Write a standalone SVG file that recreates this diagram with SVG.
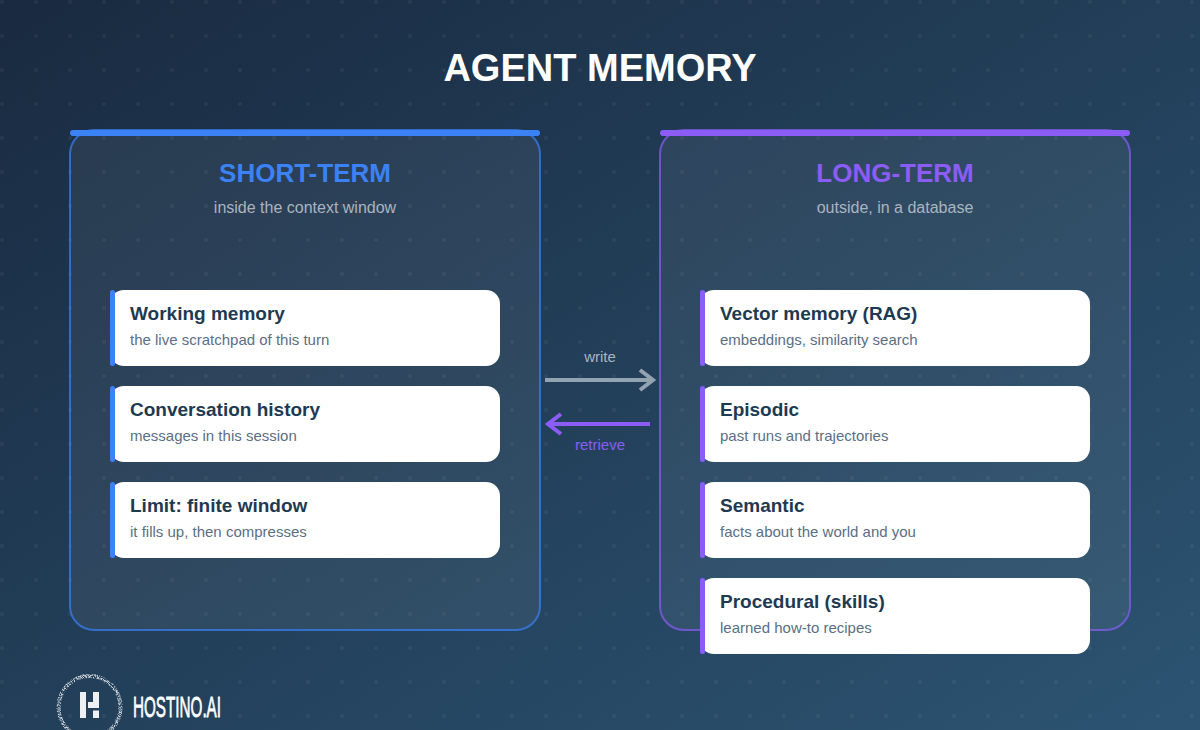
<svg xmlns="http://www.w3.org/2000/svg" width="1200" height="730" viewBox="0 0 1200 730">
<style>
text{font-family:"Liberation Sans",Arial,sans-serif}
.t{font-size:19px;font-weight:700;fill:#1e3a52}
.s{font-size:15px;fill:#5a6f85}
.card{fill:#fff}
.panel{fill:#fff;fill-opacity:.06;stroke-width:2}
.ph{font-size:26px;font-weight:700;text-anchor:middle}
.ps{font-size:16px;fill:#aab4c0;text-anchor:middle}
.lbl{font-size:15px;text-anchor:middle}
.blue{fill:#3b82f6}
.purple{fill:#8b5cf6}
.arrow{fill:none;stroke-width:4}
</style>
<defs>
<linearGradient id="bg" x1="0" y1="0" x2="1" y2="1">
<stop offset="0" stop-color="#192a40"/><stop offset="1" stop-color="#2c5472"/>
</linearGradient>
<pattern id="dots" x="0" y="0" width="34" height="34" patternUnits="userSpaceOnUse">
<circle cx="2" cy="2" r="2" fill="#fff" fill-opacity=".05"/>
</pattern>
<filter id="grain" x="-10%" y="-10%" width="120%" height="120%">
<feTurbulence type="fractalNoise" baseFrequency="1.1" numOctaves="2" seed="4" result="n"/>
<feColorMatrix in="n" type="matrix" values="0 0 0 0 0 0 0 0 0 0 0 0 0 0 0 4 0 0 0 -1.500" result="m"/>
<feComposite in="SourceGraphic" in2="m" operator="in"/>
<feGaussianBlur stdDeviation=".4"/>
</filter>
</defs>
<rect width="1200" height="730" fill="url(#bg)"/>
<rect width="1200" height="730" fill="url(#dots)"/>
<text x="600" y="81" font-size="38" font-weight="700" fill="#fff" text-anchor="middle">AGENT MEMORY</text>

<g id="panel-short">
<rect class="panel" x="70" y="130" width="470" height="500" rx="24" stroke="#3b82f6" stroke-opacity=".7"/>
<rect class="blue" x="70" y="130" width="470" height="6" rx="3"/>
<text class="ph blue" x="305" y="182">SHORT-TERM</text>
<text class="ps" x="305" y="213">inside the context window</text>
</g>
<g id="panel-long">
<rect class="panel" x="660" y="130" width="470" height="500" rx="24" stroke="#8b5cf6" stroke-opacity=".7"/>
<rect class="purple" x="660" y="130" width="470" height="6" rx="3"/>
<text class="ph purple" x="895" y="182">LONG-TERM</text>
<text class="ps" x="895" y="213">outside, in a database</text>
</g>

<g id="card-working"><rect class="card" x="110" y="290" width="390" height="76" rx="14"/><rect class="blue" x="110" y="290" width="5" height="76" rx="2.500"/><text class="t" x="130" y="320">Working memory</text><text class="s" x="130" y="345">the live scratchpad of this turn</text></g>
<g id="card-conversation"><rect class="card" x="110" y="386" width="390" height="76" rx="14"/><rect class="blue" x="110" y="386" width="5" height="76" rx="2.500"/><text class="t" x="130" y="416">Conversation history</text><text class="s" x="130" y="441">messages in this session</text></g>
<g id="card-limit"><rect class="card" x="110" y="482" width="390" height="76" rx="14"/><rect class="blue" x="110" y="482" width="5" height="76" rx="2.500"/><text class="t" x="130" y="512">Limit: finite window</text><text class="s" x="130" y="537">it fills up, then compresses</text></g>

<g id="card-vector"><rect class="card" x="700" y="290" width="390" height="76" rx="14"/><rect class="purple" x="700" y="290" width="5" height="76" rx="2.500"/><text class="t" x="720" y="320">Vector memory (RAG)</text><text class="s" x="720" y="345">embeddings, similarity search</text></g>
<g id="card-episodic"><rect class="card" x="700" y="386" width="390" height="76" rx="14"/><rect class="purple" x="700" y="386" width="5" height="76" rx="2.500"/><text class="t" x="720" y="416">Episodic</text><text class="s" x="720" y="441">past runs and trajectories</text></g>
<g id="card-semantic"><rect class="card" x="700" y="482" width="390" height="76" rx="14"/><rect class="purple" x="700" y="482" width="5" height="76" rx="2.500"/><text class="t" x="720" y="512">Semantic</text><text class="s" x="720" y="537">facts about the world and you</text></g>
<g id="card-procedural"><rect class="card" x="700" y="578" width="390" height="76" rx="14"/><rect class="purple" x="700" y="578" width="5" height="76" rx="2.500"/><text class="t" x="720" y="608">Procedural (skills)</text><text class="s" x="720" y="633">learned how-to recipes</text></g>

<g id="connectors">
<path class="arrow" stroke="#94a3b0" d="M545 380H653M640 370l13 10l-13 10"/>
<path class="arrow" stroke="#8b5cf6" d="M650 424H548M561 414l-13 10l13 10"/>
</g>
<text class="lbl" x="600" y="362" fill="#aab4c0">write</text>
<text class="lbl" x="600" y="450" fill="#8b5cf6">retrieve</text>

<g id="logo">
<circle cx="89.500" cy="707" r="31" fill="none" stroke="#fff" stroke-opacity=".75" stroke-width="4" filter="url(#grain)"/>
<path fill="#eef1f4" d="M80 692h6v26h-6zM93 692h6v16h-11v-6h5zM93 710.500h6v7.500h-6z"/>
<text x="133" y="717" font-size="30" font-weight="400" fill="#fff" stroke="#fff" stroke-width=".8" textLength="88" lengthAdjust="spacingAndGlyphs">HOSTINO.AI</text>
</g>
</svg>
